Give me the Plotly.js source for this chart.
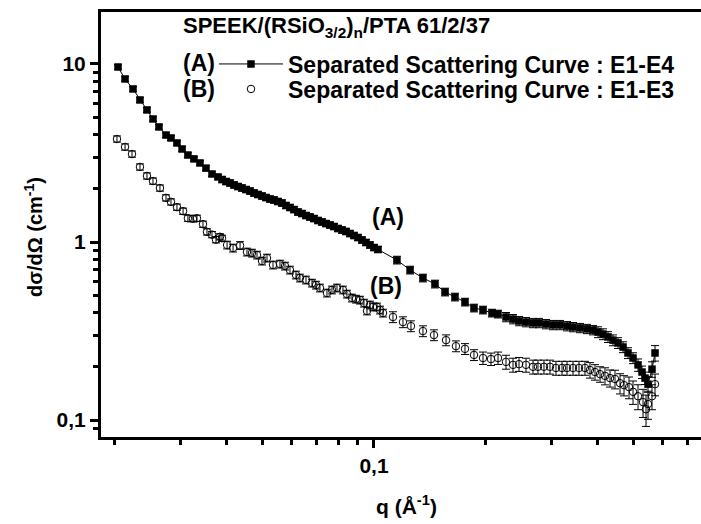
<!DOCTYPE html>
<html>
<head>
<meta charset="utf-8">
<script src="https://cdn.plot.ly/plotly-3.0.1.min.js"></script>
<style>html,body{margin:0;padding:0;background:#fff;}#chart{width:701px;height:524px;}</style>
</head>
<body>
<div id="chart"></div>
<script>
// ---- Series A: Separated Scattering Curve : E1-E4 ----
const qA = [0.02042,0.02133,0.02241,0.02340,0.02444,0.02537,0.02633,0.02750,0.02837,0.02944,0.03039,0.03151,0.03271,0.03396,0.03525,0.03659,0.03798,
0.03894,0.03993,0.04093,0.04195,0.04300,0.04408,0.04519,0.04633,0.04749,0.04868,0.04991,0.05116,0.05245,0.05377,0.05511,0.05649,0.05792,0.05937,0.06086,0.06239,
0.06396,0.06557,0.06721,0.06890,0.07064,0.07241,0.07423,0.07610,0.07801,0.07998,0.08199,0.08405,0.08617,0.08834,0.09055,0.09283,0.09515,0.09755,0.1000,0.10252,
0.1153,0.1251,0.1355,0.1460,0.1554,0.1653,0.1759,0.1860,0.1967,0.2080,0.2159,0.2269,0.2370,0.2460,0.2569,0.2683,0.2785,0.2908,0.3038,0.3172,
0.3313,0.3439,0.3592,0.3751,0.3894,0.4017,0.4143,0.4273,0.4408,0.4547,0.4691,0.4838,0.4991,0.5148,0.5278,0.5377,0.5477,0.5615,0.5721];
const IA = [9.62,8.24,7.24,6.28,5.52,4.91,4.43,3.99,3.84,3.60,3.33,3.08,2.93,2.78,2.60,2.41,2.32,
2.244,2.187,2.146,2.091,2.050,2.011,1.972,1.934,1.885,1.849,1.813,1.778,1.744,1.722,1.689,1.656,1.604,1.563,1.522,1.474,
1.446,1.409,1.382,1.355,1.321,1.296,1.270,1.246,1.222,1.191,1.168,1.146,1.116,1.088,1.060,1.026,0.994,0.962,0.931,0.908,
0.792,0.696,0.628,0.581,0.524,0.491,0.460,0.426,0.415,0.399,0.394,0.379,0.369,0.360,0.355,0.351,0.351,0.346,0.342,0.342,
0.337,0.333,0.329,0.325,0.320,0.312,0.304,0.293,0.281,0.271,0.257,0.238,0.223,0.204,0.186,0.172,0.159,0.193,0.238];
const errPctA = [3,3,3,3,3,3,3,3,3,3,3,3,3,3,3,3,3,
4,4,4,4,4,4,4,4,4,4,4,4,4,4,4,4,4,4,4,4,
4,4,4,4,4,4,4,4,4,4,4,4,4,4,4,4,4,4,4,4,
5,5,5,5,5,5,5,5,5,5,5,6,6,6,6,6,6,6,6,6,
6,6,6,6,6,7,7,7,7,7,7,7,7,8,8,8,10,10,10];

// ---- Series B: Separated Scattering Curve : E1-E3 ----
const qB = [0.02029,0.02133,0.02227,0.02340,0.02444,0.02537,0.02649,0.02750,0.02837,0.02944,0.03058,0.03151,0.03251,0.03333,0.03460,0.03547,0.03659,0.03751,0.03845,0.03894,
0.04018,0.04170,0.04355,0.04546,0.04690,0.04838,0.04991,0.05148,0.05343,0.05580,0.05756,0.05937,0.06162,0.06316,0.06557,0.06806,0.06977,0.07151,0.07469,0.07704,
0.07948,0.08248,0.08455,0.08722,0.08942,0.09169,0.09397,0.09575,0.09755,0.09938,0.10188,0.10380,0.10575,
0.1125,0.1197,0.1258,0.1355,0.1451,0.1564,0.1663,0.1759,0.1860,0.1967,0.2067,0.2159,0.2269,0.2370,0.2460,0.2569,0.2683,0.2767,0.2872,0.2981,0.3094,0.3212,
0.3313,0.3439,0.3569,0.3704,0.3821,0.3942,0.4067,0.4194,0.4327,0.4463,0.4604,0.4720,0.4868,0.4991,0.5148,0.5311,0.5410,0.5477,0.5615,0.5721];
const IB = [3.79,3.42,3.12,2.64,2.35,2.20,2.01,1.77,1.68,1.57,1.49,1.36,1.35,1.36,1.26,1.14,1.10,1.03,1.07,1.05,
0.962,0.925,0.956,0.879,0.867,0.845,0.782,0.813,0.743,0.752,0.733,0.696,0.653,0.628,0.612,0.588,0.573,0.552,0.517,0.538,
0.552,0.538,0.510,0.485,0.478,0.472,0.454,0.410,0.443,0.432,0.432,0.415,0.399,
0.379,0.355,0.337,0.316,0.300,0.281,0.260,0.251,0.232,0.223,0.220,0.223,0.212,0.204,0.206,0.204,0.199,0.199,0.199,0.199,0.196,0.196,
0.196,0.196,0.196,0.196,0.191,0.186,0.181,0.177,0.172,0.170,0.161,0.157,0.153,0.144,0.136,0.126,0.115,0.123,0.136,0.159];
const errPctB = [4,4,4,4,4,4,4,4,4,4,4,4,4,4,4,4,4,4,4,4,
5,5,5,5,5,5,5,5,5,5,5,5,5,5,5,5,5,5,5,5,
5,5,5,5,5,5,5,5,5,5,5,5,5,
7,7,7,7,7,7,7,7,7,8,8,8,9,9,9,9,9,9,9,9,9,9,
9,9,9,9,10,10,10,11,11,12,13,13,14,15,16,18,20,18,16,14];

// ---- Axis ticks ----
const xMajorVals = [0.1];
const xMajorText = ['0,1'];
const xMinorVals = [0.02,0.03,0.04,0.05,0.06,0.07,0.08,0.09,0.2,0.3,0.4,0.5,0.6,0.7];
const yMajorVals = [0.1, 1, 10];
const yMajorText = ['0,1', '1', '10'];
const yMinorVals = [0.09,0.2,0.3,0.4,0.5,0.6,0.7,0.8,0.9,2,3,4,5,6,7,8,9];

const FONT = 'Liberation Sans, Arial, Helvetica, sans-serif';
const mk = s => ({family: FONT, size: s, color: '#000', weight: 'bold'});
const F = mk(20);
const FL = mk(23);

const errA = IA.map((v, i) => v * errPctA[i] / 100);
const errB = IB.map((v, i) => v * errPctB[i] / 100);

const traceA = {
  x: qA, y: IA, type: 'scatter', mode: 'lines+markers',
  name: 'Separated Scattering Curve : E1-E4', legend: 'legend',
  line: {color: '#000', width: 1},
  marker: {symbol: 'square', size: 7.5, color: '#000'},
  error_y: {type: 'data', array: errA, visible: true, color: '#000', thickness: 1, width: 4}
};
const traceB = {
  x: qB, y: IB, type: 'scatter', mode: 'markers',
  name: 'Separated Scattering Curve : E1-E3', legend: 'legend2',
  marker: {symbol: 'circle-open', size: 7.5, color: '#000', line: {width: 1, color: '#000'}},
  error_y: {type: 'data', array: errB, visible: true, color: '#000', thickness: 1, width: 4}
};

const L = 101, T = 12, W = 600, H = 425;
const px = x => (x - L) / W;
const py = y => (T + H - y) / H;

const legendCommon = {
  font: FL, bgcolor: 'rgba(0,0,0,0)', borderwidth: 0,
  xanchor: 'left', yanchor: 'middle', itemwidth: 64
};

const layout = {
  width: 701, height: 524,
  margin: {l: L, r: 0, t: T, b: 524 - T - H},
  paper_bgcolor: '#fff', plot_bgcolor: '#fff',
  font: F,
  showlegend: true,
  legend: Object.assign({x: px(214), y: py(64)}, legendCommon),
  legend2: Object.assign({x: px(214), y: py(89)}, legendCommon),
  xaxis: {
    type: 'log', range: [-1.7358, -0.1186],
    showline: true, linewidth: 3, linecolor: '#000', mirror: true,
    showgrid: false, zeroline: false,
    tickmode: 'array', tickvals: xMajorVals, ticktext: xMajorText,
    ticks: 'outside', ticklen: 8, tickwidth: 3, tickcolor: '#000',
    tickfont: mk(21),
    minor: {tickmode: 'array', tickvals: xMinorVals, ticks: 'outside', ticklen: 5, tickwidth: 3, tickcolor: '#000', showgrid: false}
  },
  yaxis: {
    type: 'log', range: [-1.0955, 1.2921],
    showline: true, linewidth: 3, linecolor: '#000', mirror: false,
    showgrid: false, zeroline: false,
    tickmode: 'array', tickvals: yMajorVals, ticktext: yMajorText,
    ticks: 'outside', ticklen: 8, tickwidth: 3, tickcolor: '#000',
    tickfont: mk(21),
    minor: {tickmode: 'array', tickvals: yMinorVals, ticks: 'outside', ticklen: 5, tickwidth: 3, tickcolor: '#000', showgrid: false}
  },
  annotations: [
    {text: 'SPEEK/(RSiO<sub>3/2</sub>)<sub>n</sub>/PTA 61/2/37', xref: 'paper', yref: 'paper', x: px(181), y: py(27), xanchor: 'left', yanchor: 'middle', showarrow: false, font: mk(22)},
    {text: '(A)', xref: 'paper', yref: 'paper', x: px(181), y: py(63), xanchor: 'left', yanchor: 'middle', showarrow: false, font: FL},
    {text: '(B)', xref: 'paper', yref: 'paper', x: px(181), y: py(89), xanchor: 'left', yanchor: 'middle', showarrow: false, font: FL},
    {text: '(A)', xref: 'paper', yref: 'paper', x: px(388), y: py(217), xanchor: 'center', yanchor: 'middle', showarrow: false, font: FL},
    {text: '(B)', xref: 'paper', yref: 'paper', x: px(386), y: py(286), xanchor: 'center', yanchor: 'middle', showarrow: false, font: FL},
    {text: 'q (Å<sup>-1</sup>)', xref: 'paper', yref: 'paper', x: px(406), y: py(505), xanchor: 'center', yanchor: 'middle', showarrow: false, font: mk(21)},
    {text: 'dσ/dΩ (cm<sup>-1</sup>)', xref: 'paper', yref: 'paper', x: px(33), y: py(237), xanchor: 'center', yanchor: 'middle', textangle: -90, showarrow: false, font: mk(20)}
  ]
};

Plotly.newPlot('chart', [traceA, traceB], layout, {displayModeBar: false, staticPlot: true});
</script>
</body>
</html>
